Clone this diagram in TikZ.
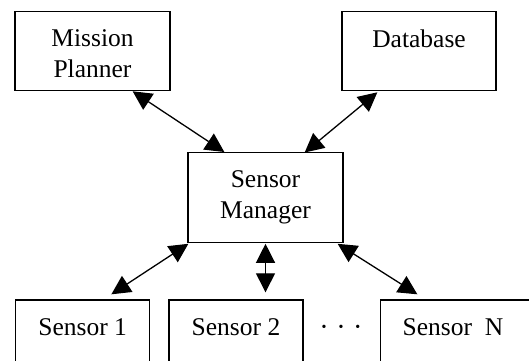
\documentclass[tikz,border=0pt]{standalone}
\usepackage{fontspec}
\setmainfont{Liberation Serif}
\usetikzlibrary{arrows.meta}
\begin{document}
\begin{tikzpicture}[x=1pt,y=-1pt,
  box/.style={draw, line width=1.3pt, inner sep=0pt, anchor=north,
    font=\fontsize{25.5}{31}\selectfont},
  link/.style={line width=1.3pt, {Triangle[length=19pt,width=19pt]}-{Triangle[length=19pt,width=19pt]}}]
\useasboundingbox (0,0) rectangle (529,360);
\clip (0,0) rectangle (529,360);
\node[box, minimum width=155pt, text height=35pt, text depth=43.5pt] (mp) at (92.5,11)
  {\begin{tabular}[t]{@{}c@{}}Mission\\Planner\end{tabular}};
\node[box, minimum width=154pt, text height=36pt, text depth=43pt] (db) at (419,11) {Database};
\node[box, minimum width=155pt, text height=35pt, text depth=55pt] (sm) at (265.5,151.5)
  {\begin{tabular}[t]{@{}c@{}}Sensor\\Manager\end{tabular}};
\node[box, minimum width=134pt, text height=35.7pt, text depth=60pt] (s1) at (82.7,299.3) {Sensor 1};
\node[box, minimum width=134pt, text height=35.7pt, text depth=60pt] (s2) at (236,299.3) {Sensor 2};
\node[box, minimum width=156pt, text height=35.7pt, text depth=60pt] (sn) at (458.5,299.3) {Sensor\ \ N\hspace*{11pt}};
\node[font=\fontsize{14}{14}\selectfont, inner sep=0pt] (dots) at (341,328) {•\hspace{12pt}•\hspace{12pt}•};
\draw[link] ([xshift=-38pt,yshift=-0.5pt]mp.south east) -- ([xshift=37pt,yshift=-0.5pt]sm.north west);
\draw[link] ([xshift=36pt,yshift=-1pt]db.south west) -- ([xshift=-39pt,yshift=-1pt]sm.north east);
\draw[link] ([xshift=1pt,yshift=-1pt]sm.south west) -- ([xshift=-39pt,yshift=5pt]s1.north east);
\draw[link] ([yshift=-1pt]sm.south) -- ([yshift=7pt]sm.south |- s2.north);
\draw[link] ([xshift=-6pt,yshift=-1pt]sm.south east) -- ([xshift=37.5pt,yshift=5pt]sn.north west);
\end{tikzpicture}
\end{document}
